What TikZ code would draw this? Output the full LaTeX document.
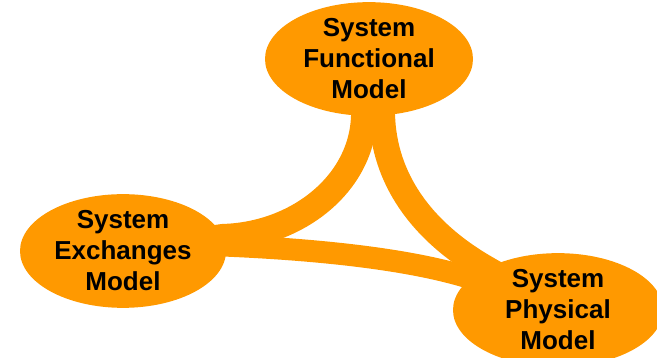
\documentclass[tikz,border=0pt]{standalone}
\usepackage{fontspec}
\setmainfont{Liberation Sans}
\usetikzlibrary{shapes.geometric,backgrounds}
\definecolor{modelorange}{HTML}{FF9900}
\tikzset{
	model/.style={ellipse, fill=modelorange, inner sep=0pt, align=center,
		font=\bfseries\fontsize{26}{31}\selectfont},
	band/.style={line width=26pt, line join=round, modelorange}
}
\begin{document}
\begin{tikzpicture}[x=1pt,y=1pt]
		\useasboundingbox (0,0) rectangle (657,358);
		\node[model, minimum width=208pt, minimum height=106pt] (func) at (369,299) {System\\Functional\\Model};
		\node[model, minimum width=206pt, minimum height=106pt] (exch) at (123,107) {System\\Exchanges\\Model};
		\node[model, minimum width=210pt, minimum height=104pt] (phys) at (558,48) {System\\Physical\\Model};
		\begin{scope}[on background layer]
			\draw[band] (func.center) -- (func.265) .. controls +(-2,-68) and +(74,2) .. (exch.8) -- (exch.center);
			\draw[band] (func.center) -- (func.283) .. controls +(2,-62) and +(-66,38) .. (phys.150) -- (phys.center);
			\draw[band, line width=22pt] (exch.center) -- (exch.3) .. controls +(70,-3) and +(-70,22) .. (phys.160) -- (phys.center);
		\end{scope}
\end{tikzpicture}
\end{document}
